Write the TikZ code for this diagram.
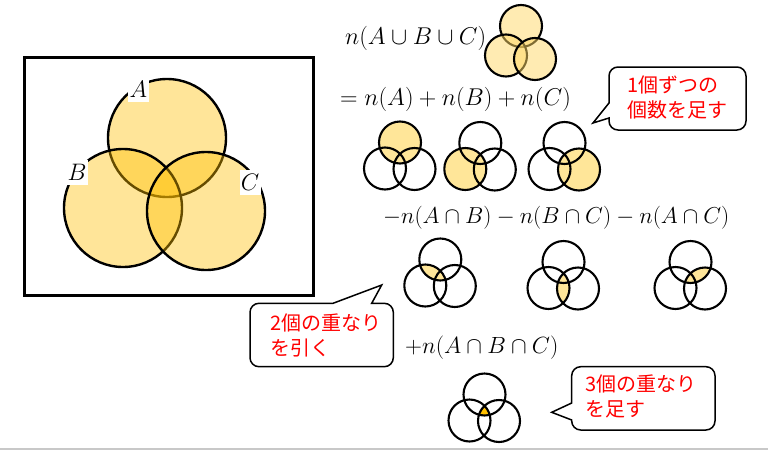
\documentclass[tikz,border=0pt]{standalone}
\usepackage{graphicx}
\usepackage{fontspec}
\newfontfamily\cjk{Noto Sans CJK JP}
\newcommand\bigmath[2][1.15]{\scalebox{#1}{\fontsize{20.74}{25}\selectfont$#2$}}
\begin{document}
\begin{tikzpicture}[x=1pt,y=-1pt,
  bigc/.style={draw=black,line width=2.4pt,fill=gold,fill opacity=0.4},
  uc/.style={draw=black,line width=2.1pt,fill=goldl,fill opacity=0.5},
  vline/.style={draw=black,line width=2.1pt},
  vfill/.style={fill=paley},
  mathtxt/.style={anchor=base west,inner sep=0pt},
  lbl/.style={fill=white,inner sep=0pt,minimum width=21pt,minimum height=25pt},
  cbox/.style={draw=black,line width=1.5pt,fill=white},
  ctxt/.style={anchor=west,inner sep=0pt,align=left,text=red,font=\cjk\fontsize{20}{25}\selectfont}]
\definecolor{gold}{HTML}{FFC000}
\definecolor{goldl}{HTML}{FFD966}
\definecolor{paley}{HTML}{FFE699}
\definecolor{lgray}{HTML}{C8C8C8}
\def\vrad{21pt}
\newcommand\smallvenn[3]{%
  \begin{scope}[shift={(#1,#2)}]
    #3
    \draw[vline] (0,0) circle[radius=\vrad] (-15,26) circle[radius=\vrad] (14.5,26.5) circle[radius=\vrad];
  \end{scope}}
\useasboundingbox (0,0) rectangle (768,450);
\fill[white] (0,0) rectangle (768,450);
\draw[lgray,line width=1.5pt] (0,449.2) -- (768,449.2);
% big Venn
\draw[line width=3pt] (24,57) rectangle (313,295);
\draw[bigc] (167,138) circle[radius=59pt];
\draw[bigc] (123,208) circle[radius=59pt];
\draw[bigc] (206,211) circle[radius=59pt];
\node[lbl] (la) at (138.5,89) {\bigmath{A}};
\node[lbl] (lb) at (77,172.5) {\bigmath{B}};
\node[lbl] (lc) at (250,182.5) {\bigmath{C}};
% formulas
\node[mathtxt] (f1) at (345,44.5) {\bigmath[1.17]{n(A\cup B\cup C)}};
\node[mathtxt] (f2) at (340,105.5) {\bigmath[1.17]{=n(A)+n(B)+n(C)}};
\node[mathtxt] (f3) at (383,223.5) {\bigmath[1.11]{-n(A\cap B)-n(B\cap C)-n(A\cap C)}};
\node[mathtxt] (f4) at (405,353.5) {\bigmath[1.13]{+n(A\cap B\cap C)}};
% union small venn
\draw[uc] (521,26) circle[radius=\vrad];
\draw[uc] (506,55.5) circle[radius=\vrad];
\draw[uc] (535,59) circle[radius=\vrad];
% single sets
\smallvenn{400}{142.5}{\fill[vfill] (0,0) circle[radius=\vrad];}
\smallvenn{480.3}{143}{\fill[vfill] (-15,26) circle[radius=\vrad];}
\smallvenn{564.5}{143}{\fill[vfill] (14.5,26.5) circle[radius=\vrad];}
% pairwise
\smallvenn{440.3}{259.5}{\begin{scope}\clip (0,0) circle[radius=\vrad]; \fill[vfill] (-15,26) circle[radius=\vrad];\end{scope}}
\smallvenn{563.5}{262}{\begin{scope}\clip (-15,26) circle[radius=\vrad]; \fill[vfill] (14.5,26.5) circle[radius=\vrad];\end{scope}}
\smallvenn{690.5}{262}{\begin{scope}\clip (0,0) circle[radius=\vrad]; \fill[vfill] (14.5,26.5) circle[radius=\vrad];\end{scope}}
% triple
\smallvenn{484.5}{394.5}{\begin{scope}\clip (0,0) circle[radius=\vrad]; \clip (-15,26) circle[radius=\vrad]; \fill[gold] (14.5,26.5) circle[radius=\vrad];\end{scope}}
% callouts
\draw[cbox] (609,103) -- (593,123) -- (609,118) [rounded corners=9pt] -- (609,130) -- (746,130) -- (746,67) -- (609,67) [sharp corners] -- cycle;
\node[ctxt] (c1) at (627,97.5) {1個ずつの\\個数を足す};
\draw[cbox] (371.7,303.3) -- (381.7,285) -- (333,303.3) [rounded corners=9pt] -- (250,303.3) -- (250,366.7) -- (393.3,366.7) -- (393.3,303.3) [sharp corners] -- cycle;
\node[ctxt] (c2) at (270,335.8) {2個の重なり\\を引く};
\draw[cbox] (571.7,403) -- (551.7,412.3) -- (571.7,420) [rounded corners=9pt] -- (571.7,430) -- (715,430) -- (715,366.7) -- (571.7,366.7) [sharp corners] -- cycle;
\node[ctxt] (c3) at (585,396) {3個の重なり\\を足す};
\end{tikzpicture}
\end{document}
